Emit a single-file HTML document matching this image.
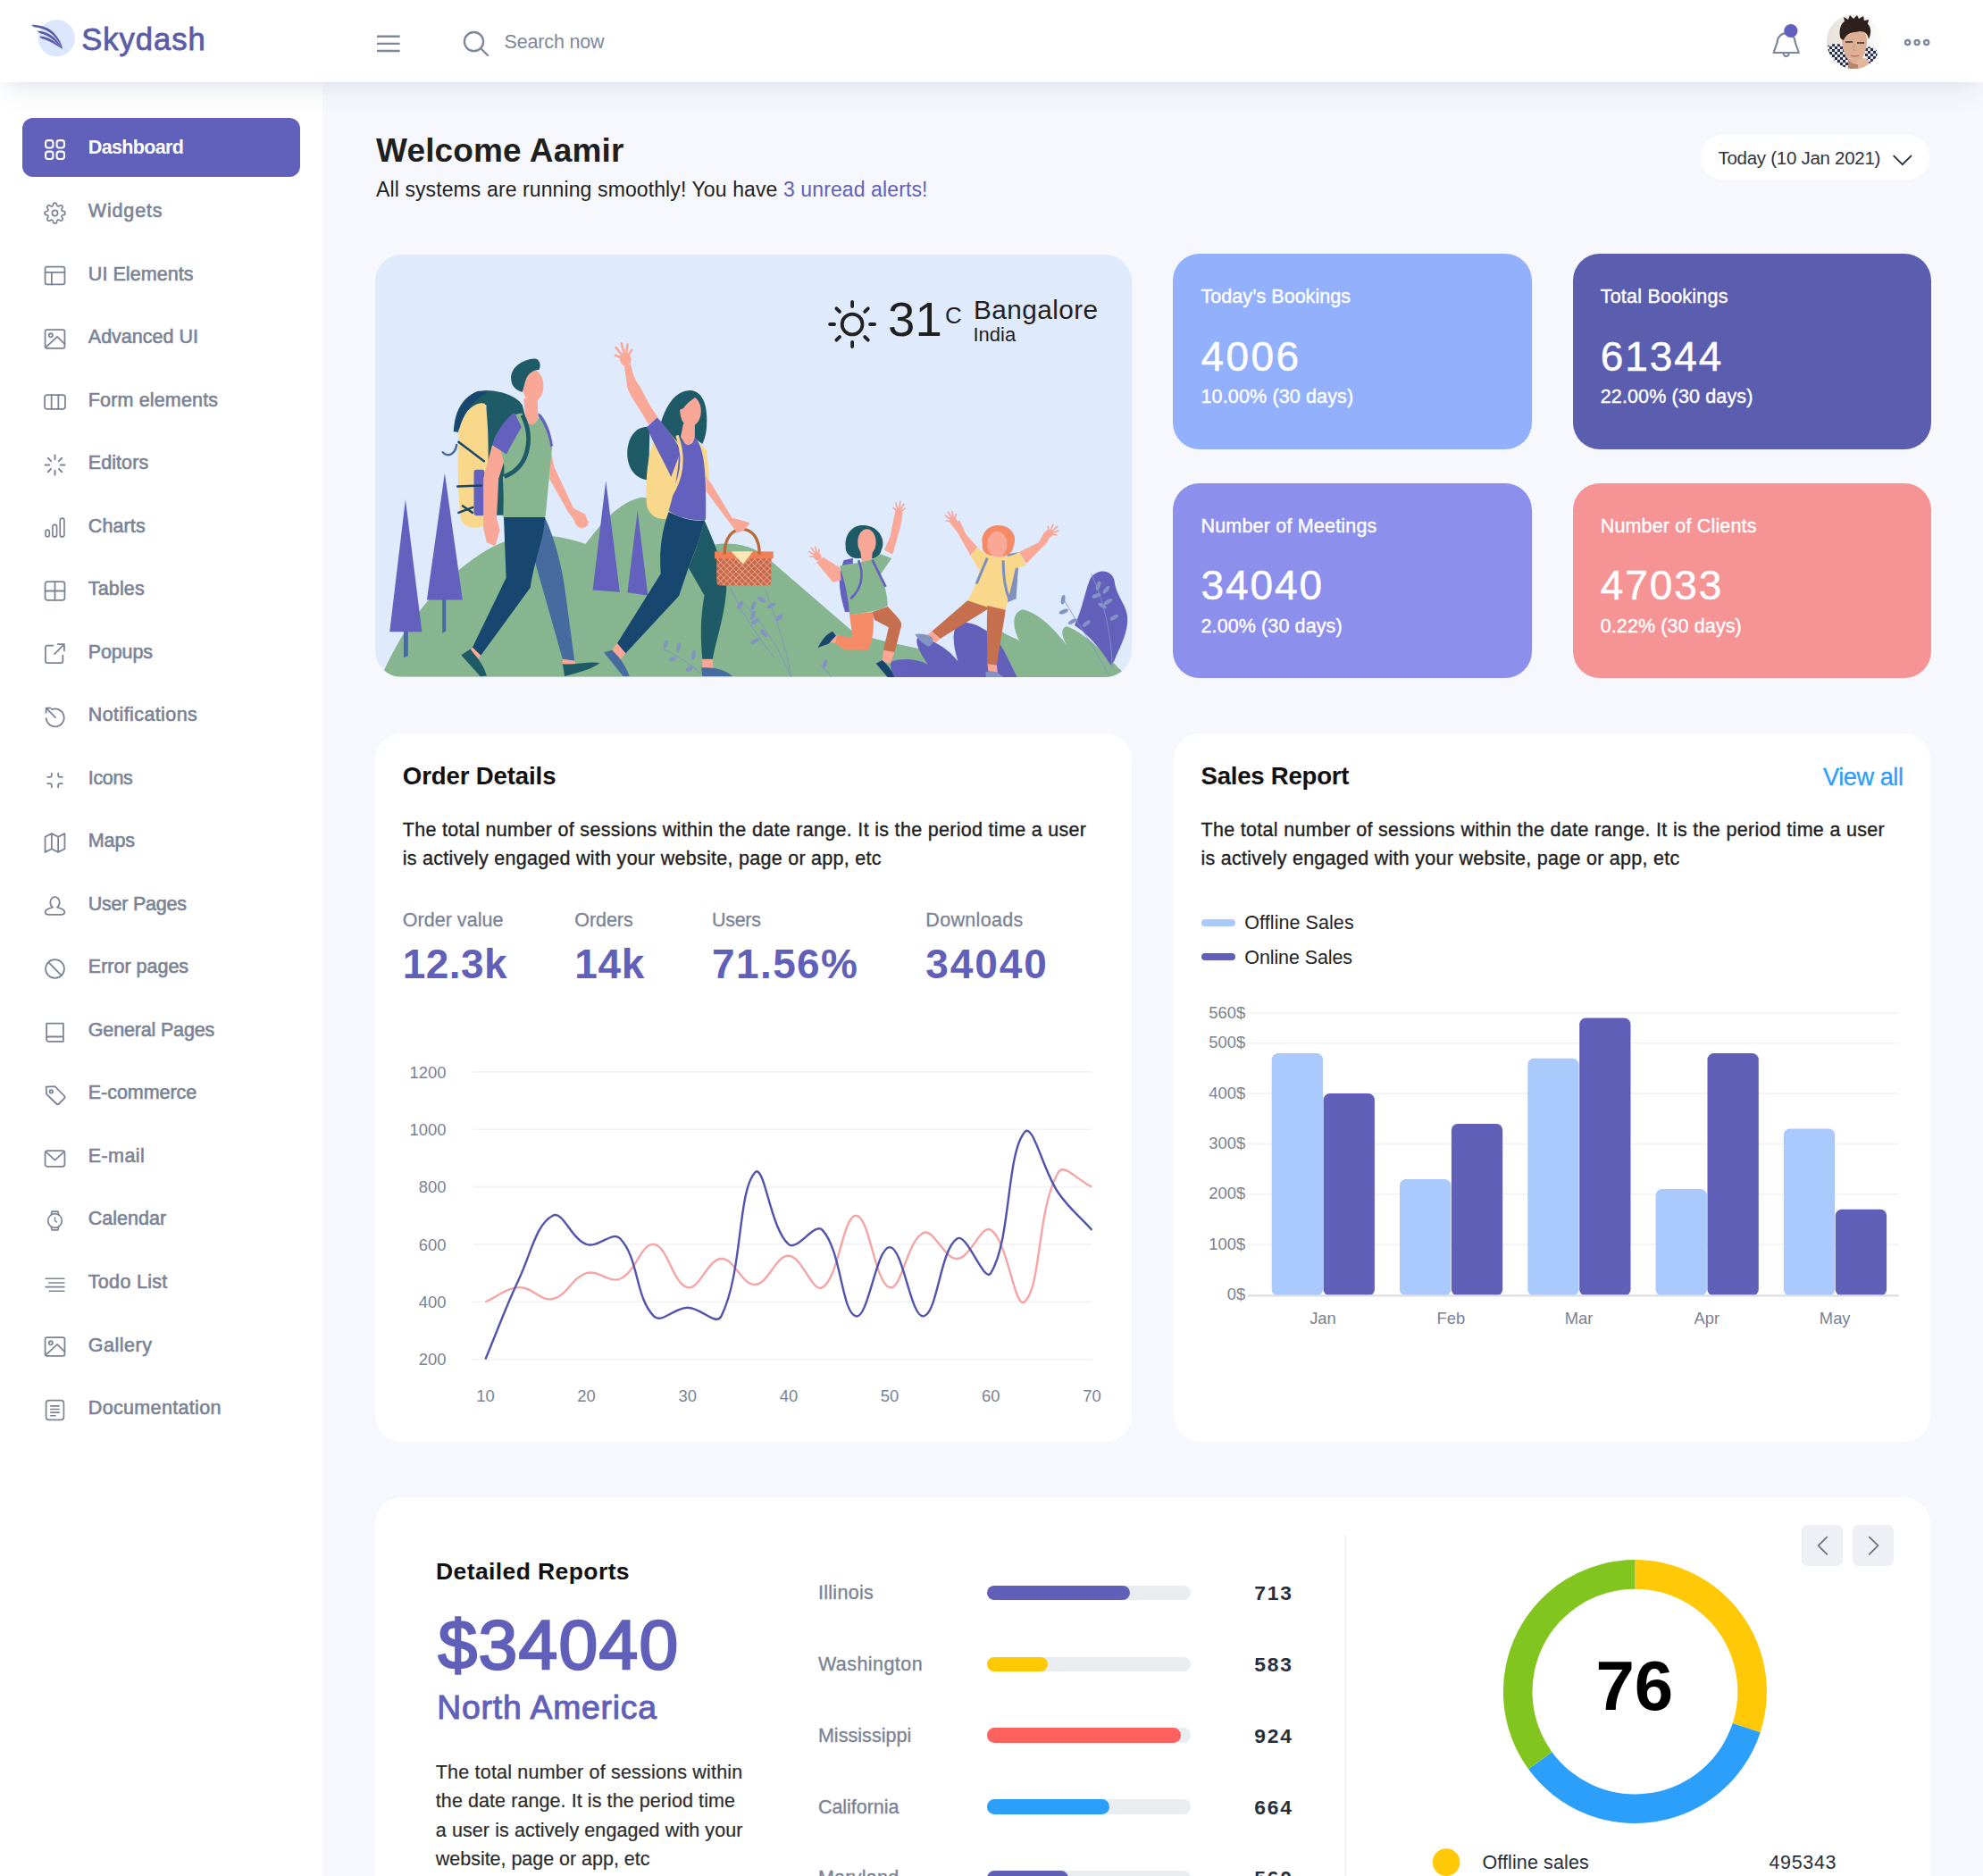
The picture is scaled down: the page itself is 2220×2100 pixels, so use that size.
<!DOCTYPE html>
<html lang="en"><head><meta charset="utf-8"><title>Skydash Admin</title>
<style>
*{box-sizing:border-box;margin:0;padding:0}
html,body{width:2220px;height:2100px;overflow:hidden;background:#f7f8fd;font-family:"Liberation Sans",Arial,sans-serif;}
#page{position:relative;width:2220px;height:2100px;overflow:hidden;background:#f7f8fd}
.t{position:absolute;white-space:nowrap}
.abs{position:absolute}
.card{position:absolute;background:#fff;border-radius:30px}
svg{position:absolute;overflow:visible}
a{text-decoration:none;color:inherit}
</style></head><body><div id="page">
<div class="abs" id="sidebar" style="left:0;top:92px;width:361px;height:2008px;background:#fff"></div>
<div class="abs" style="left:24.6px;top:132px;width:311.4px;height:66px;border-radius:12px;background:#6160ba"></div>
<nav>
<div class="t " style="top:155.4px;left:98.8px;font-size:21.50px;line-height:21.50px;color:#ffffff;font-weight:700;letter-spacing:-0.645px;">Dashboard</div>
<div class="t " style="top:225.9px;left:98.8px;font-size:21.50px;line-height:21.50px;color:#7b8395;letter-spacing:0.848px;-webkit-text-stroke:0.6px #7b8395;">Widgets</div>
<div class="t " style="top:296.5px;left:98.8px;font-size:21.50px;line-height:21.50px;color:#7b8395;letter-spacing:0.055px;-webkit-text-stroke:0.6px #7b8395;">UI Elements</div>
<div class="t " style="top:367.0px;left:98.8px;font-size:21.50px;line-height:21.50px;color:#7b8395;letter-spacing:0.009px;-webkit-text-stroke:0.6px #7b8395;">Advanced UI</div>
<div class="t " style="top:437.5px;left:98.8px;font-size:21.50px;line-height:21.50px;color:#7b8395;letter-spacing:0.156px;-webkit-text-stroke:0.6px #7b8395;">Form elements</div>
<div class="t " style="top:508.1px;left:98.8px;font-size:21.50px;line-height:21.50px;color:#7b8395;letter-spacing:0.069px;-webkit-text-stroke:0.6px #7b8395;">Editors</div>
<div class="t " style="top:578.6px;left:98.8px;font-size:21.50px;line-height:21.50px;color:#7b8395;letter-spacing:0.112px;-webkit-text-stroke:0.6px #7b8395;">Charts</div>
<div class="t " style="top:649.1px;left:98.8px;font-size:21.50px;line-height:21.50px;color:#7b8395;letter-spacing:0.158px;-webkit-text-stroke:0.6px #7b8395;">Tables</div>
<div class="t " style="top:719.6px;left:98.8px;font-size:21.50px;line-height:21.50px;color:#7b8395;letter-spacing:-0.154px;-webkit-text-stroke:0.6px #7b8395;">Popups</div>
<div class="t " style="top:790.2px;left:98.8px;font-size:21.50px;line-height:21.50px;color:#7b8395;letter-spacing:0.407px;-webkit-text-stroke:0.6px #7b8395;">Notifications</div>
<div class="t " style="top:860.7px;left:98.8px;font-size:21.50px;line-height:21.50px;color:#7b8395;letter-spacing:-0.358px;-webkit-text-stroke:0.6px #7b8395;">Icons</div>
<div class="t " style="top:931.2px;left:98.8px;font-size:21.50px;line-height:21.50px;color:#7b8395;letter-spacing:-0.119px;-webkit-text-stroke:0.6px #7b8395;">Maps</div>
<div class="t " style="top:1001.8px;left:98.8px;font-size:21.50px;line-height:21.50px;color:#7b8395;letter-spacing:-0.233px;-webkit-text-stroke:0.6px #7b8395;">User Pages</div>
<div class="t " style="top:1072.3px;left:98.8px;font-size:21.50px;line-height:21.50px;color:#7b8395;letter-spacing:-0.003px;-webkit-text-stroke:0.6px #7b8395;">Error pages</div>
<div class="t " style="top:1142.8px;left:98.8px;font-size:21.50px;line-height:21.50px;color:#7b8395;letter-spacing:-0.164px;-webkit-text-stroke:0.6px #7b8395;">General Pages</div>
<div class="t " style="top:1213.4px;left:98.8px;font-size:21.50px;line-height:21.50px;color:#7b8395;letter-spacing:-0.046px;-webkit-text-stroke:0.6px #7b8395;">E-commerce</div>
<div class="t " style="top:1283.9px;left:98.8px;font-size:21.50px;line-height:21.50px;color:#7b8395;letter-spacing:0.413px;-webkit-text-stroke:0.6px #7b8395;">E-mail</div>
<div class="t " style="top:1354.4px;left:98.8px;font-size:21.50px;line-height:21.50px;color:#7b8395;letter-spacing:0.018px;-webkit-text-stroke:0.6px #7b8395;">Calendar</div>
<div class="t " style="top:1424.9px;left:98.8px;font-size:21.50px;line-height:21.50px;color:#7b8395;letter-spacing:0.305px;-webkit-text-stroke:0.6px #7b8395;">Todo List</div>
<div class="t " style="top:1495.5px;left:98.8px;font-size:21.50px;line-height:21.50px;color:#7b8395;letter-spacing:0.500px;-webkit-text-stroke:0.6px #7b8395;">Gallery</div>
<div class="t " style="top:1566.0px;left:98.8px;font-size:21.50px;line-height:21.50px;color:#7b8395;letter-spacing:0.337px;-webkit-text-stroke:0.6px #7b8395;">Documentation</div>
</nav>
<svg style="left:49.2px;top:155.2px" width="25" height="25" viewBox="0 0 24 24" fill="none" stroke="#ffffff" stroke-width="2.00" stroke-linecap="round" stroke-linejoin="round"><rect x="2" y="2" width="8" height="8" rx="2.6"/><rect x="14" y="2" width="8" height="8" rx="2.6"/><rect x="2" y="14" width="8" height="8" rx="2.6"/><rect x="14" y="14" width="8" height="8" rx="2.6"/></svg>
<svg style="left:49.2px;top:225.7px" width="25" height="25" viewBox="0 0 24 24" fill="none" stroke="#7b8395" stroke-width="1.60" stroke-linecap="round" stroke-linejoin="round"><circle cx="12" cy="12" r="3"/><path d="M19.4 15a1.65 1.65 0 0 0 .33 1.82l.06.06a2 2 0 1 1-2.83 2.83l-.06-.06a1.65 1.65 0 0 0-1.82-.33 1.65 1.65 0 0 0-1 1.51V21a2 2 0 0 1-4 0v-.09A1.65 1.65 0 0 0 9 19.4a1.65 1.65 0 0 0-1.82.33l-.06.06a2 2 0 1 1-2.83-2.83l.06-.06a1.65 1.65 0 0 0 .33-1.82 1.65 1.65 0 0 0-1.51-1H3a2 2 0 0 1 0-4h.09A1.65 1.65 0 0 0 4.6 9a1.65 1.65 0 0 0-.33-1.82l-.06-.06a2 2 0 1 1 2.83-2.83l.06.06a1.65 1.65 0 0 0 1.82.33H9a1.65 1.65 0 0 0 1-1.51V3a2 2 0 0 1 4 0v.09a1.65 1.65 0 0 0 1 1.51 1.65 1.65 0 0 0 1.82-.33l.06-.06a2 2 0 1 1 2.83 2.83l-.06.06a1.65 1.65 0 0 0-.33 1.82V9a1.65 1.65 0 0 0 1.51 1H21a2 2 0 0 1 0 4h-.09a1.65 1.65 0 0 0-1.51 1z"/></svg>
<svg style="left:49.2px;top:296.3px" width="25" height="25" viewBox="0 0 24 24" fill="none" stroke="#7b8395" stroke-width="1.70" stroke-linecap="round" stroke-linejoin="round"><rect x="1.5" y="2.5" width="21" height="19" rx="2"/><path d="M1.5 8.5h21M8.5 8.5v13"/></svg>
<svg style="left:49.2px;top:366.8px" width="25" height="25" viewBox="0 0 24 24" fill="none" stroke="#7b8395" stroke-width="1.70" stroke-linecap="round" stroke-linejoin="round"><rect x="1.5" y="2" width="21" height="20" rx="2"/><circle cx="7.5" cy="8" r="2"/><path d="M2 21L14.5 9.5l8 8"/></svg>
<svg style="left:49.2px;top:437.3px" width="25" height="25" viewBox="0 0 24 24" fill="none" stroke="#7b8395" stroke-width="1.70" stroke-linecap="round" stroke-linejoin="round"><rect x="1" y="5" width="22" height="15" rx="2.5"/><path d="M8.3 5v15M15.7 5v15"/></svg>
<svg style="left:49.2px;top:507.9px" width="25" height="25" viewBox="0 0 24 24" fill="none" stroke="#7b8395" stroke-width="1.90" stroke-linecap="round" stroke-linejoin="round"><path d="M12 1.5v4.500000000000001M12 18v4.500000000000001M1.5 12h4.500000000000001M18 12h4.500000000000001M4.6 4.6l3.2 3.2M16.2 16.2l3.2 3.2M4.6 19.4l3.2-3.2M16.2 7.8l3.2-3.2"/></svg>
<svg style="left:49.2px;top:578.4px" width="25" height="25" viewBox="0 0 24 24" fill="none" stroke="#7b8395" stroke-width="1.60" stroke-linecap="round" stroke-linejoin="round"><rect x="2" y="14.5" width="4" height="7.5" rx="2"/><rect x="9.5" y="9" width="4.5" height="13" rx="2.2"/><rect x="17.5" y="2" width="4.5" height="20" rx="2.2"/></svg>
<svg style="left:49.2px;top:648.9px" width="25" height="25" viewBox="0 0 24 24" fill="none" stroke="#7b8395" stroke-width="1.70" stroke-linecap="round" stroke-linejoin="round"><rect x="1.5" y="2" width="21" height="20" rx="2.5"/><path d="M12 2v20M1.5 12h21"/></svg>
<svg style="left:49.2px;top:719.4px" width="25" height="25" viewBox="0 0 24 24" fill="none" stroke="#7b8395" stroke-width="1.70" stroke-linecap="round" stroke-linejoin="round"><path d="M10 3.5H4a2.2 2.2 0 0 0-2.2 2.2V20A2.2 2.2 0 0 0 4 22.2h14.300000000000001A2.2 2.2 0 0 0 20.5 20v-6"/><path d="M15 2h7v7M22 2L11.5 12.5"/></svg>
<svg style="left:49.2px;top:790.0px" width="25" height="25" viewBox="0 0 24 24" fill="none" stroke="#7b8395" stroke-width="1.70" stroke-linecap="round" stroke-linejoin="round"><path d="M2.6 13.5A9.6 9.6 0 1 0 8.5 4"/><path d="M2.5 7.5V2.5H7.500000000000001M2.8 2.8L12.5 12.5"/></svg>
<svg style="left:49.2px;top:860.5px" width="25" height="25" viewBox="0 0 24 24" fill="none" stroke="#7b8395" stroke-width="1.70" stroke-linecap="round" stroke-linejoin="round"><path d="M4 8.5h2.5a2 2 0 0 0 2-2V4.5M15.500000000000002 4.5v2a2 2 0 0 0 2 2H20M4 15.500000000000002h2.5a2 2 0 0 1 2 2V19.5M20 15.500000000000002h-2.5a2 2 0 0 0-2 2V19.5"/></svg>
<svg style="left:49.2px;top:931.0px" width="25" height="25" viewBox="0 0 24 24" fill="none" stroke="#7b8395" stroke-width="1.70" stroke-linecap="round" stroke-linejoin="round"><path d="M1.5 5.5L8.5 2l7 3.5 7-3.5v16.5L15.500000000000002 22l-7-3.5-7 3.5zM8.5 2v16.5M15.500000000000002 5.5V22"/></svg>
<svg style="left:49.2px;top:1001.6px" width="25" height="25" viewBox="0 0 24 24" fill="none" stroke="#7b8395" stroke-width="1.70" stroke-linecap="round" stroke-linejoin="round"><path d="M12 2a5 5.6 0 0 1 5 5.6c0 3-1.4 4.700000000000001-2.6 5.6 4.600000000000001 1 8 3 8 5.300000000000001 0 1.8-2 2.5-4 2.5H5.6c-2 0-4-.7-4-2.5 0-2.3 3.4-4.300000000000001 8-5.300000000000001C8.4 12.3 7 10.6 7 7.6A5 5.6 0 0 1 12 2z"/></svg>
<svg style="left:49.2px;top:1072.1px" width="25" height="25" viewBox="0 0 24 24" fill="none" stroke="#7b8395" stroke-width="1.70" stroke-linecap="round" stroke-linejoin="round"><circle cx="12" cy="12" r="10"/><path d="M5 5l14 14"/></svg>
<svg style="left:49.2px;top:1142.6px" width="25" height="25" viewBox="0 0 24 24" fill="none" stroke="#7b8395" stroke-width="1.70" stroke-linecap="round" stroke-linejoin="round"><path d="M3 2.5h18v19.5H5.2A2.2 2.2 0 0 1 3 19.8zM3 18.2a2.2 2.2 0 0 1 2.2-1.4000000000000001H21"/></svg>
<svg style="left:49.2px;top:1213.2px" width="25" height="25" viewBox="0 0 24 24" fill="none" stroke="#7b8395" stroke-width="1.70" stroke-linecap="round" stroke-linejoin="round"><path d="M2.5 3.5l9.5-.5 10 10.200000000000001a2 2 0 0 1 0 2.8l-5.6 5.6a2 2 0 0 1-2.8 0L3 11.5z"/><circle cx="8" cy="8.5" r="1.7"/></svg>
<svg style="left:49.2px;top:1283.7px" width="25" height="25" viewBox="0 0 24 24" fill="none" stroke="#7b8395" stroke-width="1.70" stroke-linecap="round" stroke-linejoin="round"><rect x="1.5" y="4" width="21" height="17" rx="2.5"/><path d="M2 5l10 9 10-9"/></svg>
<svg style="left:49.2px;top:1354.2px" width="25" height="25" viewBox="0 0 24 24" fill="none" stroke="#7b8395" stroke-width="1.60" stroke-linecap="round" stroke-linejoin="round"><circle cx="12" cy="12" r="7.5"/><path d="M12 8.5V12l2 1.5" stroke-width="1.4"/><path d="M8 5.5l.7-3.5h6.6l.7 3.5M8 18.5l.7 3.5h6.6l.7-3.5"/></svg>
<svg style="left:49.2px;top:1424.7px" width="25" height="25" viewBox="0 0 24 24" fill="none" stroke="#7b8395" stroke-width="1.50" stroke-linecap="round" stroke-linejoin="round"><path d="M2 6h20M5.5 10.5H22M2 15h20M6 19.5h16"/></svg>
<svg style="left:49.2px;top:1495.3px" width="25" height="25" viewBox="0 0 24 24" fill="none" stroke="#7b8395" stroke-width="1.70" stroke-linecap="round" stroke-linejoin="round"><rect x="1.5" y="2" width="21" height="20" rx="2"/><circle cx="7.5" cy="8" r="2"/><path d="M2 21L14.5 9.5l8 8"/></svg>
<svg style="left:49.2px;top:1565.8px" width="25" height="25" viewBox="0 0 24 24" fill="none" stroke="#7b8395" stroke-width="1.60" stroke-linecap="round" stroke-linejoin="round"><rect x="2.5" y="1.5" width="19" height="21" rx="3"/><path d="M7.5 7.5h9M7.5 11h9M7.5 14.5h9M7.5 18h5"/></svg>
<header class="abs" id="navbar" style="left:0;top:0;width:2220px;height:92px;background:#fff;box-shadow:0 8px 32px -8px rgba(205,209,225,0.85)"></header>
<svg style="left:30px;top:18px" width="62" height="50" viewBox="30 18 62 50"><circle cx="63.3" cy="42.6" r="20.6" fill="#dce6fd"/><path fill="#5b5ca8" d="M35.1 27.9C45 27.5 55 31 61 37.5C66 43 69 49 70.2 55.1C67.5 49.5 64 44 59 39C53 33.5 46 31.5 38.2 30.3Z M41.2 34.5C49 34.5 56 37.5 61 42.5C65 46.5 68 51 70.2 55.1C66 50.5 62 46.5 57.5 43C53 39.8 49 38 44.2 36.9Z M44.2 40.6C51 40.8 57 43.5 62 47.5C65.5 50.2 68 52.8 70.2 55.1C66 52.5 62 50 58 47.8C54 45.6 50 44 46 43Z"/></svg>
<div class="t " style="top:26.8px;left:91.2px;font-size:34.60px;line-height:34.60px;color:#5b5ca8;letter-spacing:0.970px;-webkit-text-stroke:0.8px #5b5ca8;">Skydash</div>
<svg style="left:422px;top:38px" width="26" height="22" viewBox="0 0 26 22" stroke="#7f879c" stroke-width="2.4" fill="none"><path d="M0 2.8h25.6M0 10.9h25.6M0 19h25.6"/></svg>
<svg style="left:515px;top:31px" width="36" height="36" viewBox="515 31 36 36" stroke="#7f879c" stroke-width="2.3" fill="none" stroke-linecap="round"><circle cx="530.5" cy="46.6" r="10.6"/><path d="M538.3 54.2L546 62"/></svg>
<div class="t " style="top:36.8px;left:564.5px;font-size:21.50px;line-height:21.50px;color:#7f879c;letter-spacing:-0.154px;">Search now</div>
<svg style="left:1980px;top:25px" width="40" height="44" viewBox="1980 25 40 44" stroke="#7f879c" stroke-width="2.2" fill="none" stroke-linejoin="round" stroke-linecap="round"><path d="M1985.6 59 L1989.8 47 A9.9 9.9 0 0 1 2009.6 47 L2013.8 59 Z"/><path d="M1996.7 59.5a3 3.6 0 0 0 6 0"/><circle cx="2004.9" cy="34.5" r="7.6" fill="#6160c0" stroke="none"/></svg>
<svg style="left:2045px;top:15.8px" width="61" height="61" viewBox="0 0 61 61"><defs><clipPath id="avc"><circle cx="30.5" cy="30.5" r="30.5"/></clipPath><linearGradient id="avg" x1="0" x2="1" y1="0" y2="0"><stop offset="0" stop-color="#e9e0db"/><stop offset="0.55" stop-color="#f3efec"/><stop offset="1" stop-color="#fdfdfd"/></linearGradient>
<clipPath id="shl"><path d="M0 36 C6 32 14 32 22 36 L28 61 L0 61Z"/></clipPath><clipPath id="shr"><path d="M42 38 C48 35 54 37 57 42 L55 56 L44 54Z"/></clipPath></defs>
<g clip-path="url(#avc)"><rect width="61" height="61" fill="url(#avg)"/>
<path d="M0 36 C6 32 14 32 22 36 L28 61 L0 61Z" fill="#e4e7ee"/><g clip-path="url(#shl)" fill="#2a2f45"><rect x="0" y="33" width="3" height="3"/><rect x="6" y="33" width="3" height="3"/><rect x="12" y="33" width="3" height="3"/><rect x="18" y="33" width="3" height="3"/><rect x="24" y="33" width="3" height="3"/><rect x="3" y="36" width="3" height="3"/><rect x="9" y="36" width="3" height="3"/><rect x="15" y="36" width="3" height="3"/><rect x="21" y="36" width="3" height="3"/><rect x="27" y="36" width="3" height="3"/><rect x="0" y="39" width="3" height="3"/><rect x="6" y="39" width="3" height="3"/><rect x="12" y="39" width="3" height="3"/><rect x="18" y="39" width="3" height="3"/><rect x="24" y="39" width="3" height="3"/><rect x="3" y="42" width="3" height="3"/><rect x="9" y="42" width="3" height="3"/><rect x="15" y="42" width="3" height="3"/><rect x="21" y="42" width="3" height="3"/><rect x="27" y="42" width="3" height="3"/><rect x="0" y="45" width="3" height="3"/><rect x="6" y="45" width="3" height="3"/><rect x="12" y="45" width="3" height="3"/><rect x="18" y="45" width="3" height="3"/><rect x="24" y="45" width="3" height="3"/><rect x="3" y="48" width="3" height="3"/><rect x="9" y="48" width="3" height="3"/><rect x="15" y="48" width="3" height="3"/><rect x="21" y="48" width="3" height="3"/><rect x="27" y="48" width="3" height="3"/><rect x="0" y="51" width="3" height="3"/><rect x="6" y="51" width="3" height="3"/><rect x="12" y="51" width="3" height="3"/><rect x="18" y="51" width="3" height="3"/><rect x="24" y="51" width="3" height="3"/><rect x="3" y="54" width="3" height="3"/><rect x="9" y="54" width="3" height="3"/><rect x="15" y="54" width="3" height="3"/><rect x="21" y="54" width="3" height="3"/><rect x="27" y="54" width="3" height="3"/><rect x="0" y="57" width="3" height="3"/><rect x="6" y="57" width="3" height="3"/><rect x="12" y="57" width="3" height="3"/><rect x="18" y="57" width="3" height="3"/><rect x="24" y="57" width="3" height="3"/><rect x="3" y="60" width="3" height="3"/><rect x="9" y="60" width="3" height="3"/><rect x="15" y="60" width="3" height="3"/><rect x="21" y="60" width="3" height="3"/><rect x="27" y="60" width="3" height="3"/></g>
<path d="M42 38 C48 35 54 37 57 42 L55 56 L44 54Z" fill="#e4e7ee"/><g clip-path="url(#shr)" fill="#2a2f45"><rect x="40" y="35" width="3" height="3"/><rect x="46" y="35" width="3" height="3"/><rect x="52" y="35" width="3" height="3"/><rect x="58" y="35" width="3" height="3"/><rect x="43" y="38" width="3" height="3"/><rect x="49" y="38" width="3" height="3"/><rect x="55" y="38" width="3" height="3"/><rect x="40" y="41" width="3" height="3"/><rect x="46" y="41" width="3" height="3"/><rect x="52" y="41" width="3" height="3"/><rect x="58" y="41" width="3" height="3"/><rect x="43" y="44" width="3" height="3"/><rect x="49" y="44" width="3" height="3"/><rect x="55" y="44" width="3" height="3"/><rect x="40" y="47" width="3" height="3"/><rect x="46" y="47" width="3" height="3"/><rect x="52" y="47" width="3" height="3"/><rect x="58" y="47" width="3" height="3"/><rect x="43" y="50" width="3" height="3"/><rect x="49" y="50" width="3" height="3"/><rect x="55" y="50" width="3" height="3"/><rect x="40" y="53" width="3" height="3"/><rect x="46" y="53" width="3" height="3"/><rect x="52" y="53" width="3" height="3"/><rect x="58" y="53" width="3" height="3"/><rect x="43" y="56" width="3" height="3"/><rect x="49" y="56" width="3" height="3"/><rect x="55" y="56" width="3" height="3"/></g>
<path d="M17 30 C16 20 22 15 31 15 C41 15 46 22 45 32 C44 44 39 54 32 56 C24 55 18 44 17 30Z" fill="#ddb096"/>
<path d="M24 50 C27 56 36 58 41 53 L43 61 L24 61Z" fill="#b98468"/>
<path d="M35 52 C38 48 45 48 47 53 L46 61 L35 61Z" fill="#e3b79d"/>
<path d="M15.5 27 C13 18 16 10 20 8 L19 3 L24 6 L26 1 L30 5 L34 1 L36 5 L41 2 L42 7 L47 6 L46 11 C50 14 50 22 47 28 C46 22 43 19 37 19 C31 21 24 18 19 29 Z" fill="#2e211d"/>
<path d="M21 31 h8 M34 32 h8" stroke="#3a2a26" stroke-width="1.4"/><path d="M27 46 q4 2 9 0" stroke="#a86a5c" stroke-width="1.3" fill="none"/><path d="M31 33 l-1.500000000000000 7 h3" stroke="#c4947a" stroke-width="1" fill="none"/>
</g></svg>
<svg style="left:2130px;top:42px" width="32" height="12" viewBox="2130 42 32 12" stroke="#7f879c" stroke-width="2.3" fill="none"><circle cx="2135.6" cy="47.6" r="2.6"/><circle cx="2146.1" cy="47.6" r="2.6"/><circle cx="2156.7" cy="47.6" r="2.6"/></svg>
<div class="t " style="top:150.2px;left:421.0px;font-size:37.00px;line-height:37.00px;color:#1f1f1f;font-weight:700;letter-spacing:0.150px;">Welcome Aamir</div>
<div class="t " style="top:200.5px;left:421.0px;font-size:23.00px;line-height:23.00px;color:#1f1f1f;letter-spacing:0.108px;">All systems are running smoothly! You have <span style="color:#6160b9">3 unread alerts!</span></div>
<div class="abs" style="left:1904.3px;top:151.2px;width:255.5px;height:49.4px;border-radius:24.7px;background:#fff"></div>
<div class="t " style="top:166.9px;left:1923.5px;font-size:20.50px;line-height:20.50px;color:#2f3540;letter-spacing:-0.279px;">Today (10 Jan 2021)</div>
<svg style="left:2118px;top:172px" width="24" height="16" viewBox="2118 172 24 16" stroke="#282f3a" stroke-width="1.9" fill="none" stroke-linecap="round" stroke-linejoin="round"><path d="M2120.3 174.6L2129.8 184.2L2139.4 174.6"/></svg>
<section class="abs" id="weather" style="left:419.8px;top:284.6px;width:847.5px;height:473.2px;border-radius:30px;background:#dfeafd;overflow:hidden">
<svg style="left:0;top:0" width="847.5" height="473.2" viewBox="419.8 284.6 847.5 473.2"><g transform="translate(420 380) scale(0.221887)"><path fill="#86b590" d="M30 1700 C80 1580 180 1400 300 1280 C420 1150 540 1060 660 1015 C760 975 900 975 1060 1030 C1120 960 1200 830 1340 795 C1450 790 1560 900 1700 1035 C1760 1020 1900 1020 1990 1110 L2408 1471 C2500 1510 2650 1540 2760 1560 C2900 1590 3000 1650 3100 1700Z"/><path fill="#466b9f" d="M143 1460h22v135l-22 8zM338 1300h18v170l-18 10z"/><path fill="#6361bd" d="M152 805L235 1473H72zM350 672L440 1312H260zM1163 710L1233 1272L1097 1262zM1323 862L1375 1290L1272 1275z"/><g stroke="#8393c4" stroke-width="4.5" fill="none" stroke-linecap="round"><path d="M1790 1250C1850 1380 1930 1500 2010 1600"/><path d="M1450 1560C1520 1590 1600 1640 1650 1690"/></g><g fill="#8393c4"><ellipse cx="1840" cy="1340" rx="10" ry="24" transform="rotate(30 1840 1340)"/><ellipse cx="1905" cy="1390" rx="10" ry="24" transform="rotate(20 1905 1390)"/><ellipse cx="1960" cy="1480" rx="10" ry="24" transform="rotate(-40 1960 1480)"/><ellipse cx="1915" cy="1520" rx="10" ry="24" transform="rotate(60 1915 1520)"/><ellipse cx="1465" cy="1535" rx="10" ry="22" transform="rotate(20 1465 1535)"/><ellipse cx="1530" cy="1550" rx="10" ry="24" transform="rotate(15 1530 1550)"/><ellipse cx="1605" cy="1590" rx="10" ry="24" transform="rotate(10 1605 1590)"/><ellipse cx="1500" cy="1610" rx="10" ry="20" transform="rotate(70 1500 1610)"/><ellipse cx="1585" cy="1660" rx="10" ry="20" transform="rotate(60 1585 1660)"/></g><path fill="#466b9f" d="M855 895C905 1000 945 1150 962 1300L1005 1620L945 1612L800 1100C820 1000 840 950 855 895Z"/><path fill="#1f5b67" d="M395 462C400 330 470 255 560 255C650 258 720 290 742 330L765 420C775 520 765 610 705 665L645 690L650 885L596 885L562 600L560 330C500 300 430 380 420 467Z"/><path fill="#f9d88b" d="M420 467C430 380 500 305 552 322C574 400 572 600 566 935C500 960 442 950 430 900C414 750 414 600 420 467Z"/><path fill="#17466f" d="M394.6 465C407.8 370 444.8 285.4 518.8 259L566.4 264.3C508.2 296 455.4 343.5 423.7 449.3Z"/><rect x="497" y="655" width="54" height="232" rx="14" fill="#6361bd"/><g stroke="#17466f" stroke-width="11" fill="none" stroke-linecap="round"><path d="M420 515L548 612"/><path d="M415 740L535 735"/><path d="M420 872L492 845"/><path d="M440 838L490 872"/><path d="M340 567C362 592 402 582 410 530" stroke="#466b9f"/></g><path fill="#f9a898" d="M590 530L662 575L622 700L612 900L628 960L605 1040L562 1022L545 950L545 700Z"/><path fill="#f9a898" d="M885 560L902 640L1000 850L1078 920L1040 952L975 872L878 700Z"/><path fill="#f9a898" d="M1000 850L1060 880L1075 935L1050 950L1035 915L1030 950L1010 930L990 880Z"/><path fill="#f9a898" d="M748 295L818 305L822 400L792 455L758 400Z"/><ellipse cx="795" cy="232" rx="53" ry="80" fill="#f9a898"/><path fill="#1f5b67" d="M685 200C680 140 740 100 800 95C830 93 838 130 826 152C800 150 770 170 760 200C750 230 746 250 742 264C702 252 688 230 685 200Z"/><path fill="#86b590" d="M740 370C760 425 800 465 832 372C862 400 886 470 892 540L858 892C800 928 700 922 645 896L650 640C640 560 620 520 600 500C640 420 690 370 740 370Z"/><path fill="#6361bd" d="M702 368C650 400 610 470 590 530L662 577C690 520 722 470 737 440Z"/><path fill="#6361bd" d="M822 368C860 400 888 470 896 535L884 540C876 480 850 420 822 385Z"/><path fill="none" stroke="#1f5b67" stroke-width="22" d="M742 380C795 480 785 640 650 690"/><path fill="#17466f" d="M648 895L856 895C852 1000 805 1100 782 1250L532 1592L490 1552L660 1200Z"/><path fill="#f9a898" d="M490 1552L532 1592L520 1612L470 1582Z"/><path fill="#1f5b67" d="M433 1590L480 1560C500 1592 540 1622 562 1695L530 1698Z"/><path fill="#f9a898" d="M945 1610L1005 1620L1010 1642L945 1637Z"/><path fill="#1f5b67" d="M945 1635C1000 1642 1080 1620 1132 1630C1100 1660 1020 1680 955 1697Z"/><path fill="#1f5b67" d="M1660 910C1700 1000 1745 1100 1772 1250C1762 1400 1722 1500 1702 1612L1650 1612C1640 1500 1640 1400 1660 1290L1580 1150C1610 1080 1640 1000 1660 910Z"/><path fill="#1f5b67" d="M1385 440C1300 430 1262 520 1273 600C1285 680 1340 705 1378 708Z"/><path fill="#f9d88b" d="M1400 520C1370 600 1360 750 1370 840C1390 900 1440 912 1482 900L1562 640L1532 480L1440 470Z"/><path fill="#f9d88b" d="M1600 480L1672 560L1686 700L1664 700L1640 560Z"/><path fill="#1f5b67" d="M1440 420C1470 320 1520 255 1590 255C1652 260 1677 330 1672 420C1672 470 1662 500 1650 525L1590 482L1560 560L1460 440Z"/><path fill="#f9a898" d="M1256 132L1289 124C1300 180 1315 210 1331 228L1384 328L1427 394L1378 426L1330 345C1300 300 1280 270 1271 238Z"/><g transform="translate(1262 98) rotate(-14) scale(1.30)" stroke="#f9a898" stroke-width="9" stroke-linecap="round" fill="#f9a898"><ellipse cx="0" cy="0" rx="22" ry="26" stroke="none"/><path d="M-9.8 -6.9L-34.4 -24.1"/><path d="M-5.1 -10.9L-24.5 -52.6"/><path d="M0.0 -12.0L0.0 -64.0"/><path d="M4.5 -11.1L21.7 -53.8"/><path d="M8.9 -8.0L32.7 -29.4"/></g><path fill="#f9a898" d="M1668 690L1692 720L1800 898L1885 922L1852 962L1808 950L1668 762Z"/><path fill="#f9a898" d="M1555 420L1612 425L1612 500L1575 545L1540 490Z"/><ellipse cx="1590" cy="360" rx="53" ry="76" fill="#f9a898"/><path fill="#1f5b67" d="M1530 355C1530 300 1570 270 1620 285C1600 300 1570 320 1555 345C1545 350 1535 352 1530 355Z"/><path fill="#6361bd" d="M1530 480C1560 545 1600 545 1612 490C1652 540 1672 620 1667 907C1600 917 1530 897 1480 862C1510 760 1540 640 1530 480Z"/><path fill="#6361bd" d="M1422 393L1370 440C1400 520 1450 600 1492 692L1542 560C1500 480 1450 420 1422 393Z"/><path fill="none" stroke="#f9d88b" stroke-width="15" d="M1522 482C1565 600 1545 700 1492 785"/><path fill="#17466f" d="M1480 868C1540 900 1600 917 1662 910C1640 1000 1600 1100 1580 1150L1532 1292L1262 1582L1220 1532L1440 1180C1430 1050 1450 950 1480 868Z"/><path fill="#f9a898" d="M1220 1530L1262 1580L1240 1612L1190 1572Z"/><path fill="#466b9f" d="M1153 1577L1195 1565C1230 1600 1262 1640 1282 1697L1250 1697Z"/><path fill="#f9a898" d="M1650 1610L1702 1610L1706 1662L1650 1657Z"/><path fill="#466b9f" d="M1645 1655C1700 1650 1760 1662 1802 1697L1650 1697Z"/><defs><pattern id="bk" width="22" height="22" patternUnits="userSpaceOnUse" patternTransform="rotate(45)"><rect width="22" height="22" fill="#c5674a"/><path d="M0 0H22M0 0V22" stroke="#f3b196" stroke-width="6"/></pattern></defs><path fill="url(#bk)" d="M1722 1100H1998V1215C1998 1232 1990 1240 1975 1240H1745C1730 1240 1722 1232 1722 1215Z"/><rect x="1712" y="1068" width="296" height="36" fill="#f07f55"/><path fill="#fce8b4" d="M1795 1068H1905L1855 1132Z"/><path fill="none" stroke="#b96b3b" stroke-width="15" d="M1762 1082C1762 1000 1800 955 1850 955C1900 955 1938 1000 1938 1082"/><path fill="#f9a898" d="M1800 898L1862 915L1890 925L1860 960L1825 975L1810 950Z"/></g><g transform="translate(830 500) scale(0.221887)"><path fill="#86b590" d="M1290 915C1340 955 1380 960 1402 978C1360 900 1368 830 1420 820C1500 838 1580 920 1642 1002C1610 950 1610 910 1642 905C1740 940 1850 1060 1918 1130L1930 1165L1290 1165Z"/><path fill="#6361bd" d="M1680 900C1720 820 1740 700 1762 660C1800 610 1872 618 1882 680C1892 760 1952 800 1947 880C1942 960 1902 1020 1880 1080L1862 1100C1800 1000 1740 940 1680 900Z"/><path fill="#6361bd" d="M750 1085C800 1060 900 1070 942 1100C900 1040 870 980 890 960C950 960 1050 1020 1092 1082C1060 980 1060 900 1110 885C1200 880 1300 960 1340 1060L1392 1165L760 1165Z"/><g stroke="#8393c4" stroke-width="4.5" fill="none" stroke-linecap="round" opacity="0.85"><path d="M1620 760C1700 900 1790 1020 1850 1150"/><path d="M1765 640C1830 780 1870 960 1870 1120"/><path d="M10 790C120 900 200 1040 250 1160"/><path d="M120 720C170 860 230 1020 250 1160"/><path d="M400 1100C420 1120 440 1140 450 1160"/></g><g fill="#8393c4"><ellipse cx="1622" cy="770" rx="10" ry="24" transform="rotate(10 1622 770)"/><ellipse cx="1625" cy="830" rx="10" ry="24" transform="rotate(70 1625 830)"/><ellipse cx="1670" cy="880" rx="10" ry="24" transform="rotate(60 1670 880)"/><ellipse cx="1740" cy="890" rx="10" ry="24" transform="rotate(50 1740 890)"/><ellipse cx="1800" cy="700" rx="10" ry="24" transform="rotate(20 1800 700)"/><ellipse cx="1790" cy="750" rx="10" ry="24" transform="rotate(70 1790 750)"/><ellipse cx="1840" cy="720" rx="10" ry="24" transform="rotate(40 1840 720)"/><ellipse cx="1850" cy="780" rx="10" ry="24" transform="rotate(60 1850 780)"/><ellipse cx="1880" cy="860" rx="10" ry="24" transform="rotate(60 1880 860)"/><ellipse cx="1820" cy="800" rx="10" ry="24" transform="rotate(-60 1820 800)"/><ellipse cx="60" cy="800" rx="10" ry="24" transform="rotate(20 60 800)"/><ellipse cx="100" cy="770" rx="10" ry="24" transform="rotate(-60 100 770)"/><ellipse cx="150" cy="800" rx="10" ry="24" transform="rotate(60 150 800)"/><ellipse cx="70" cy="880" rx="10" ry="24" transform="rotate(60 70 880)"/><ellipse cx="190" cy="860" rx="10" ry="24" transform="rotate(50 190 860)"/><ellipse cx="420" cy="1095" rx="10" ry="24" transform="rotate(20 420 1095)"/></g><path fill="#6361bd" d="M515 572L562 560L562 832L522 832C500 760 490 700 495 640Z"/><path fill="#1f5b67" d="M620 395C560 390 520 440 525 500C520 540 560 570 600 560C640 580 700 560 705 520C730 480 700 400 620 395Z"/><path fill="#f9a898" d="M600 530L660 530L655 600L610 600Z"/><ellipse cx="632" cy="480" rx="46" ry="66" fill="#f9a898"/><path fill="#f9a898" d="M497 610L502 672L460 682L378 582L412 556Z"/><g transform="translate(383 553) rotate(-35) scale(0.85)" stroke="#f9a898" stroke-width="9" stroke-linecap="round" fill="#f9a898"><ellipse cx="0" cy="0" rx="22" ry="26" stroke="none"/><path d="M-9.8 -6.9L-34.4 -24.1"/><path d="M-5.1 -10.9L-24.5 -52.6"/><path d="M0.0 -12.0L0.0 -64.0"/><path d="M4.5 -11.1L21.7 -53.8"/><path d="M8.9 -8.0L32.7 -29.4"/></g><path fill="#f9a898" d="M720 520L762 542L802 400L812 340L772 340L750 450Z"/><g transform="translate(793 332) rotate(8) scale(0.88)" stroke="#f9a898" stroke-width="9" stroke-linecap="round" fill="#f9a898"><ellipse cx="0" cy="0" rx="22" ry="26" stroke="none"/><path d="M-9.8 -6.9L-34.4 -24.1"/><path d="M-5.1 -10.9L-24.5 -52.6"/><path d="M0.0 -12.0L0.0 -64.0"/><path d="M4.5 -11.1L21.7 -53.8"/><path d="M8.9 -8.0L32.7 -29.4"/></g><path fill="#86b590" d="M495 600C560 580 640 592 702 540L757 562L702 642C722 700 737 750 737 802C680 832 600 842 545 847C540 760 520 680 495 600Z"/><g stroke="#6361bd" stroke-width="12" fill="none"><path d="M590 572C622 650 602 720 550 765"/><path d="M660 570L727 705"/></g><path fill="#f58b66" d="M545 847L662 832C672 900 662 980 640 1022L520 1022L472 990L482 950L560 962Z"/><path fill="#c66f4e" d="M660 832L737 805C780 850 812 880 806 902L772 1037L715 1027L742 910L670 872Z"/><path fill="#f9a898" d="M715 1025L772 1035L752 1092L710 1082Z"/><path fill="#f9a898" d="M472 990L482 950L450 960L440 985Z"/><path fill="#17466f" d="M385 1012C400 980 430 940 460 930L476 952L440 992Z"/><path fill="#17466f" d="M678 1092L710 1075C740 1100 760 1130 772 1165L740 1165Z"/><path fill="#8090bd" d="M1340 540L1402 530L1385 765L1340 785Z"/><path fill="#f58b66" d="M1295 395C1240 395 1205 440 1215 490C1210 530 1240 555 1280 550C1320 565 1370 540 1372 500C1395 450 1360 395 1295 395Z"/><path fill="#f9a898" d="M1262 540L1320 540L1315 590L1270 590Z"/><ellipse cx="1290" cy="490" rx="50" ry="64" fill="#f9a898"/><path fill="#f9a898" d="M1190 505L1155 547L1090 432L1060 392L1100 370L1132 440Z"/><g transform="translate(1070 376) rotate(-30) scale(0.88)" stroke="#f9a898" stroke-width="9" stroke-linecap="round" fill="#f9a898"><ellipse cx="0" cy="0" rx="22" ry="26" stroke="none"/><path d="M-9.8 -6.9L-34.4 -24.1"/><path d="M-5.1 -10.9L-24.5 -52.6"/><path d="M0.0 -12.0L0.0 -64.0"/><path d="M4.5 -11.1L21.7 -53.8"/><path d="M8.9 -8.0L32.7 -29.4"/></g><path fill="#f9a898" d="M1400 530L1437 587L1542 480L1562 440L1527 430L1500 480Z"/><g transform="translate(1550 438) rotate(50) scale(0.88)" stroke="#f9a898" stroke-width="9" stroke-linecap="round" fill="#f9a898"><ellipse cx="0" cy="0" rx="22" ry="26" stroke="none"/><path d="M-9.8 -6.9L-34.4 -24.1"/><path d="M-5.1 -10.9L-24.5 -52.6"/><path d="M0.0 -12.0L0.0 -64.0"/><path d="M4.5 -11.1L21.7 -53.8"/><path d="M8.9 -8.0L32.7 -29.4"/></g><path fill="#f9d88b" d="M1190 505L1155 547L1200 622C1190 680 1160 740 1140 777C1200 802 1270 822 1332 822C1352 740 1372 660 1382 612L1437 597L1400 530C1350 562 1250 572 1190 505Z"/><g stroke="#8090bd" stroke-width="14" fill="none"><path d="M1240 560L1185 690"/><path d="M1320 572C1320 650 1330 720 1352 770"/></g><path fill="#c66f4e" d="M1140 775L1252 812L1002 967L960 930Z"/><path fill="#c66f4e" d="M1240 800L1332 822C1322 900 1302 1000 1287 1102L1240 1097C1240 1000 1235 900 1240 800Z"/><path fill="#f9a898" d="M960 930L1002 967L980 987L930 952Z"/><path fill="#8393c4" d="M875 945C900 938 940 945 962 960C972 980 962 1000 940 1007C910 990 890 970 875 945Z"/><path fill="#f9a898" d="M1240 1095L1287 1100L1292 1137L1245 1132Z"/><path fill="#8393c4" d="M1230 1137C1260 1125 1300 1135 1322 1165L1235 1165Z"/></g><g stroke="#222" stroke-width="3.8" fill="none" stroke-linecap="round"><circle cx="953.9" cy="362.6" r="11.4"/><path d="M973.9 362.6L978.9 362.6"/><path d="M968.0 376.7L971.6 380.3"/><path d="M953.9 382.6L953.9 387.6"/><path d="M939.8 376.7L936.2 380.3"/><path d="M933.9 362.6L928.9 362.6"/><path d="M939.8 348.5L936.2 344.9"/><path d="M953.9 342.6L953.9 337.6"/><path d="M968.0 348.5L971.6 344.9"/></g></svg>
</section>
<div class="t " style="top:330.6px;left:993.9px;font-size:54.50px;line-height:54.50px;color:#1f1f1f;letter-spacing:0.189px;">31</div>
<div class="t " style="top:339.9px;left:1058.0px;font-size:26.00px;line-height:26.00px;color:#1f1f1f;">C</div>
<div class="t " style="top:332.2px;left:1090.0px;font-size:29.80px;line-height:29.80px;color:#1f1f1f;letter-spacing:0.404px;">Bangalore</div>
<div class="t " style="top:363.7px;left:1089.5px;font-size:22.00px;line-height:22.00px;color:#1f1f1f;letter-spacing:-0.021px;">India</div>
<div class="abs" style="left:1313.3px;top:284.3px;width:401.4px;height:219.0px;border-radius:30px;background:#92b0fb"></div>
<div class="t " style="top:322.3px;left:1344.5px;font-size:21.50px;line-height:21.50px;color:#fff;letter-spacing:0.035px;-webkit-text-stroke:0.4px #fff;">Today’s Bookings</div>
<div class="t " style="top:375.6px;left:1344.5px;font-size:46.00px;line-height:46.00px;color:#fff;letter-spacing:2.416px;-webkit-text-stroke:0.5px #fff;">4006</div>
<div class="t " style="top:434.1px;left:1344.5px;font-size:21.50px;line-height:21.50px;color:#fff;letter-spacing:0.143px;-webkit-text-stroke:0.4px #fff;">10.00% (30 days)</div>
<div class="abs" style="left:1760.5px;top:284.3px;width:401.2px;height:219.0px;border-radius:30px;background:#5b5daf"></div>
<div class="t " style="top:322.3px;left:1791.7px;font-size:21.50px;line-height:21.50px;color:#fff;letter-spacing:0.226px;-webkit-text-stroke:0.4px #fff;">Total Bookings</div>
<div class="t " style="top:375.6px;left:1791.7px;font-size:46.00px;line-height:46.00px;color:#fff;letter-spacing:1.916px;-webkit-text-stroke:0.5px #fff;">61344</div>
<div class="t " style="top:434.1px;left:1791.7px;font-size:21.50px;line-height:21.50px;color:#fff;letter-spacing:0.143px;-webkit-text-stroke:0.4px #fff;">22.00% (30 days)</div>
<div class="abs" style="left:1313.3px;top:541.1px;width:401.4px;height:217.5px;border-radius:30px;background:#8c8feb"></div>
<div class="t " style="top:579.1px;left:1344.5px;font-size:21.50px;line-height:21.50px;color:#fff;letter-spacing:0.189px;-webkit-text-stroke:0.4px #fff;">Number of Meetings</div>
<div class="t " style="top:632.4px;left:1344.5px;font-size:46.00px;line-height:46.00px;color:#fff;letter-spacing:1.916px;-webkit-text-stroke:0.5px #fff;">34040</div>
<div class="t " style="top:690.9px;left:1344.5px;font-size:21.50px;line-height:21.50px;color:#fff;letter-spacing:0.109px;-webkit-text-stroke:0.4px #fff;">2.00% (30 days)</div>
<div class="abs" style="left:1760.5px;top:541.1px;width:401.2px;height:217.5px;border-radius:30px;background:#f59395"></div>
<div class="t " style="top:579.1px;left:1791.7px;font-size:21.50px;line-height:21.50px;color:#fff;letter-spacing:0.173px;-webkit-text-stroke:0.4px #fff;">Number of Clients</div>
<div class="t " style="top:632.4px;left:1791.7px;font-size:46.00px;line-height:46.00px;color:#fff;letter-spacing:1.916px;-webkit-text-stroke:0.5px #fff;">47033</div>
<div class="t " style="top:690.9px;left:1791.7px;font-size:21.50px;line-height:21.50px;color:#fff;letter-spacing:0.109px;-webkit-text-stroke:0.4px #fff;">0.22% (30 days)</div>
<section class="card" style="left:419.6px;top:820.6px;width:847.6px;height:793.8px"></section>
<div class="t " style="top:854.6px;left:450.8px;font-size:27.60px;line-height:27.60px;color:#111;font-weight:700;letter-spacing:-0.134px;">Order Details</div>
<div class="t " style="top:919.1px;left:450.8px;font-size:21.50px;line-height:21.50px;color:#1f1f1f;letter-spacing:0.307px;-webkit-text-stroke:0.35px #1f1f1f;">The total number of sessions within the date range. It is the period time a user</div>
<div class="t " style="top:951.1px;left:450.8px;font-size:21.50px;line-height:21.50px;color:#1f1f1f;letter-spacing:0.271px;-webkit-text-stroke:0.35px #1f1f1f;">is actively engaged with your website, page or app, etc</div>
<div class="t " style="top:1020.2px;left:450.8px;font-size:21.50px;line-height:21.50px;color:#7b8395;letter-spacing:0.024px;-webkit-text-stroke:0.3px #7b8395;">Order value</div>
<div class="t " style="top:1056.1px;left:450.8px;font-size:46.00px;line-height:46.00px;color:#6160b9;font-weight:700;letter-spacing:0.417px;">12.3k</div>
<div class="t " style="top:1020.2px;left:643.3px;font-size:21.50px;line-height:21.50px;color:#7b8395;letter-spacing:-0.068px;-webkit-text-stroke:0.3px #7b8395;">Orders</div>
<div class="t " style="top:1056.1px;left:643.3px;font-size:46.00px;line-height:46.00px;color:#6160b9;font-weight:700;letter-spacing:0.649px;">14k</div>
<div class="t " style="top:1020.2px;left:797.0px;font-size:21.50px;line-height:21.50px;color:#7b8395;letter-spacing:-0.309px;-webkit-text-stroke:0.3px #7b8395;">Users</div>
<div class="t " style="top:1056.1px;left:797.0px;font-size:46.00px;line-height:46.00px;color:#6160b9;font-weight:700;letter-spacing:1.397px;">71.56%</div>
<div class="t " style="top:1020.2px;left:1036.3px;font-size:21.50px;line-height:21.50px;color:#7b8395;letter-spacing:0.337px;-webkit-text-stroke:0.3px #7b8395;">Downloads</div>
<div class="t " style="top:1056.1px;left:1036.3px;font-size:46.00px;line-height:46.00px;color:#6160b9;font-weight:700;letter-spacing:1.916px;">34040</div>
<svg style="left:0;top:0" width="2220" height="2100" viewBox="0 0 2220 2100" id="order-chart"><g stroke="#f3f3f5" stroke-width="1.6"><path d="M528.9 1521.6H1222.4"/><path d="M528.9 1457.3H1222.4"/><path d="M528.9 1392.9H1222.4"/><path d="M528.9 1328.6H1222.4"/><path d="M528.9 1264.2H1222.4"/><path d="M528.9 1199.9H1222.4"/></g><path d="M543.40 1457.26C558.49 1450.83 565.82 1441.83 581.12 1441.17C596.00 1440.54 605.08 1456.98 618.84 1454.04C635.26 1450.54 639.85 1430.08 656.57 1425.09C670.02 1421.07 681.77 1436.86 694.29 1431.52C711.95 1423.99 717.87 1391.11 732.01 1392.92C748.05 1394.97 753.06 1437.62 769.73 1441.17C783.23 1444.05 792.05 1409.66 807.46 1409.00C822.23 1408.38 830.40 1438.59 845.18 1437.96C860.58 1437.30 868.13 1405.16 882.90 1405.79C898.31 1406.45 909.52 1447.80 920.62 1441.17C939.69 1429.79 943.26 1360.75 958.34 1360.75C973.43 1360.75 979.38 1436.91 996.07 1441.17C1009.56 1444.63 1015.63 1387.79 1033.79 1380.05C1045.81 1374.93 1056.74 1409.63 1071.51 1409.00C1086.91 1408.35 1098.42 1369.92 1109.23 1376.84C1128.60 1389.22 1135.71 1466.85 1146.96 1457.26C1165.89 1441.11 1160.99 1352.89 1184.68 1312.50C1191.17 1301.42 1207.31 1322.15 1222.40 1328.58" fill="none" stroke="#f5a5a6" stroke-width="2.4"/><path d="M543.40 1521.60C558.49 1485.57 564.55 1466.85 581.12 1431.52C594.73 1402.51 600.20 1370.29 618.84 1360.75C630.37 1354.85 639.54 1387.11 656.57 1392.92C669.71 1397.40 685.60 1377.23 694.29 1386.49C715.78 1409.40 710.63 1451.46 732.01 1473.35C740.80 1482.34 754.64 1463.69 769.73 1463.69C784.82 1463.69 801.70 1484.88 807.46 1473.35C831.88 1424.40 825.55 1333.42 845.18 1312.50C855.73 1301.25 862.25 1375.31 882.90 1392.92C892.43 1401.05 912.07 1367.71 920.62 1376.84C942.24 1399.88 941.85 1469.12 958.34 1473.35C972.03 1476.85 980.98 1396.14 996.07 1396.14C1011.16 1396.14 1019.43 1475.18 1033.79 1473.35C1049.61 1471.32 1052.29 1398.78 1071.51 1386.49C1082.47 1379.48 1101.69 1436.98 1109.23 1425.09C1131.87 1389.37 1126.53 1291.85 1146.96 1267.46C1156.71 1255.81 1167.21 1309.69 1184.68 1335.01C1197.39 1353.44 1207.31 1360.11 1222.40 1376.84" fill="none" stroke="#5153ac" stroke-width="2.4"/><g font-family="Liberation Sans, Arial, sans-serif" font-size="18.4" fill="#7a8294"><text x="499.5" y="1528.2" text-anchor="end">200</text><text x="499.5" y="1463.9" text-anchor="end">400</text><text x="499.5" y="1399.5" text-anchor="end">600</text><text x="499.5" y="1335.2" text-anchor="end">800</text><text x="499.5" y="1270.8" text-anchor="end">1000</text><text x="499.5" y="1206.5" text-anchor="end">1200</text><text x="543.4" y="1568.6" text-anchor="middle">10</text><text x="656.6" y="1568.6" text-anchor="middle">20</text><text x="769.7" y="1568.6" text-anchor="middle">30</text><text x="882.9" y="1568.6" text-anchor="middle">40</text><text x="996.1" y="1568.6" text-anchor="middle">50</text><text x="1109.2" y="1568.6" text-anchor="middle">60</text><text x="1222.4" y="1568.6" text-anchor="middle">70</text></g></svg>
<section class="card" style="left:1313.5px;top:820.6px;width:847.7px;height:793.8px"></section>
<div class="t " style="top:854.6px;left:1344.5px;font-size:27.60px;line-height:27.60px;color:#111;font-weight:700;letter-spacing:-0.253px;">Sales Report</div>
<div class="t " style="top:856.0px;left:2041.0px;font-size:27.20px;line-height:27.20px;color:#2c9ffb;letter-spacing:-0.467px;-webkit-text-stroke:0.3px #2c9ffb;">View all</div>
<div class="t " style="top:919.1px;left:1344.5px;font-size:21.50px;line-height:21.50px;color:#1f1f1f;letter-spacing:0.307px;-webkit-text-stroke:0.35px #1f1f1f;">The total number of sessions within the date range. It is the period time a user</div>
<div class="t " style="top:951.1px;left:1344.5px;font-size:21.50px;line-height:21.50px;color:#1f1f1f;letter-spacing:0.271px;-webkit-text-stroke:0.35px #1f1f1f;">is actively engaged with your website, page or app, etc</div>
<div class="abs" style="left:1344.5px;top:1029px;width:38px;height:8px;border-radius:4px;background:#aacafd"></div>
<div class="abs" style="left:1344.5px;top:1067.4px;width:38px;height:8px;border-radius:4px;background:#6160b9"></div>
<div class="t " style="top:1023.1px;left:1393.3px;font-size:21.50px;line-height:21.50px;color:#1f1f1f;letter-spacing:0.069px;">Offline Sales</div>
<div class="t " style="top:1061.6px;left:1393.3px;font-size:21.50px;line-height:21.50px;color:#1f1f1f;letter-spacing:-0.109px;">Online Sales</div>
<svg style="left:0;top:0" width="2220" height="2100" viewBox="0 0 2220 2100" id="sales-chart"><g stroke="#f3f3f5" stroke-width="1.6"><path d="M1396.5 1393.1H2125.8"/><path d="M1396.5 1336.8H2125.8"/><path d="M1396.5 1280.4H2125.8"/><path d="M1396.5 1224.1H2125.8"/><path d="M1396.5 1167.8H2125.8"/><path d="M1396.5 1134.0H2125.8"/></g><rect fill="#aacafd" x="1423.7" y="1179.1" width="57.3" height="271.3" rx="7"/><rect fill="#6160b9" x="1481.6" y="1224.1" width="57.3" height="226.3" rx="7"/><rect fill="#aacafd" x="1567.0" y="1319.9" width="57.3" height="130.5" rx="7"/><rect fill="#6160b9" x="1624.9" y="1257.9" width="57.3" height="192.5" rx="7"/><rect fill="#aacafd" x="1710.3" y="1184.7" width="57.3" height="265.7" rx="7"/><rect fill="#6160b9" x="1768.2" y="1139.6" width="57.3" height="310.8" rx="7"/><rect fill="#aacafd" x="1853.6" y="1331.1" width="57.3" height="119.3" rx="7"/><rect fill="#6160b9" x="1911.5" y="1179.1" width="57.3" height="271.3" rx="7"/><rect fill="#aacafd" x="1996.9" y="1263.5" width="57.3" height="186.9" rx="7"/><rect fill="#6160b9" x="2054.8" y="1353.7" width="57.3" height="96.7" rx="7"/><path d="M1396.5 1450.4H2125.8" stroke="#dedee2" stroke-width="2.4"/><g font-family="Liberation Sans, Arial, sans-serif" font-size="18.4" fill="#7a8294"><text x="1394.2" y="1455.0" text-anchor="end">0$</text><text x="1394.2" y="1398.7" text-anchor="end">100$</text><text x="1394.2" y="1342.4" text-anchor="end">200$</text><text x="1394.2" y="1286.0" text-anchor="end">300$</text><text x="1394.2" y="1229.7" text-anchor="end">400$</text><text x="1394.2" y="1173.4" text-anchor="end">500$</text><text x="1394.2" y="1139.6" text-anchor="end">560$</text><text x="1481.0" y="1481.5" text-anchor="middle">Jan</text><text x="1624.3" y="1481.5" text-anchor="middle">Feb</text><text x="1767.6" y="1481.5" text-anchor="middle">Mar</text><text x="1910.9" y="1481.5" text-anchor="middle">Apr</text><text x="2054.2" y="1481.5" text-anchor="middle">May</text></g></svg>
<section class="card" style="left:419.6px;top:1676px;width:1741px;height:520px"></section>
<div class="t " style="top:1745.6px;left:488.0px;font-size:26.50px;line-height:26.50px;color:#111;font-weight:700;letter-spacing:0.401px;">Detailed Reports</div>
<div class="t " style="top:1801.8px;left:490.5px;font-size:78.60px;line-height:78.60px;color:#6160b9;letter-spacing:1.285px;-webkit-text-stroke:2.4px #6160b9;">$34040</div>
<div class="t " style="top:1893.4px;left:489.3px;font-size:37.30px;line-height:37.30px;color:#6160b9;letter-spacing:0.783px;-webkit-text-stroke:1.0px #6160b9;">North America</div>
<div class="t " style="top:1974.3px;left:487.8px;font-size:21.50px;line-height:21.50px;color:#2b2b2b;letter-spacing:0.191px;-webkit-text-stroke:0.2px #2b2b2b;">The total number of sessions within</div>
<div class="t " style="top:2006.4px;left:487.8px;font-size:21.50px;line-height:21.50px;color:#2b2b2b;letter-spacing:0.080px;-webkit-text-stroke:0.2px #2b2b2b;">the date range. It is the period time</div>
<div class="t " style="top:2038.6px;left:487.8px;font-size:21.50px;line-height:21.50px;color:#2b2b2b;letter-spacing:0.086px;-webkit-text-stroke:0.2px #2b2b2b;">a user is actively engaged with your</div>
<div class="t " style="top:2070.7px;left:487.8px;font-size:21.50px;line-height:21.50px;color:#2b2b2b;letter-spacing:-0.026px;-webkit-text-stroke:0.2px #2b2b2b;">website, page or app, etc</div>
<div class="t " style="top:1772.9px;left:915.9px;font-size:21.50px;line-height:21.50px;color:#7b8395;letter-spacing:0.319px;-webkit-text-stroke:0.35px #7b8395;">Illinois</div>
<div class="abs" style="left:1104.6px;top:1774.7px;width:228.7px;height:16.6px;border-radius:8.3px;background:#eaedf0"><div style="width:160.1px;height:16.6px;border-radius:8.3px;background:#6160b9"></div></div>
<div class="t " style="top:1771.9px;left:1404.2px;font-size:22.80px;line-height:22.80px;color:#282f3a;font-weight:700;letter-spacing:1.853px;">713</div>
<div class="t " style="top:1852.8px;left:915.9px;font-size:21.50px;line-height:21.50px;color:#7b8395;letter-spacing:0.446px;-webkit-text-stroke:0.35px #7b8395;">Washington</div>
<div class="abs" style="left:1104.6px;top:1854.6px;width:228.7px;height:16.6px;border-radius:8.3px;background:#eaedf0"><div style="width:68.6px;height:16.6px;border-radius:8.3px;background:#ffc900"></div></div>
<div class="t " style="top:1851.8px;left:1404.2px;font-size:22.80px;line-height:22.80px;color:#282f3a;font-weight:700;letter-spacing:1.853px;">583</div>
<div class="t " style="top:1932.6px;left:915.9px;font-size:21.50px;line-height:21.50px;color:#7b8395;letter-spacing:0.051px;-webkit-text-stroke:0.35px #7b8395;">Mississippi</div>
<div class="abs" style="left:1104.6px;top:1934.4px;width:228.7px;height:16.6px;border-radius:8.3px;background:#eaedf0"><div style="width:217.3px;height:16.6px;border-radius:8.3px;background:#ff625e"></div></div>
<div class="t " style="top:1931.6px;left:1404.2px;font-size:22.80px;line-height:22.80px;color:#282f3a;font-weight:700;letter-spacing:1.853px;">924</div>
<div class="t " style="top:2012.5px;left:915.9px;font-size:21.50px;line-height:21.50px;color:#7b8395;letter-spacing:-0.032px;-webkit-text-stroke:0.35px #7b8395;">California</div>
<div class="abs" style="left:1104.6px;top:2014.3px;width:228.7px;height:16.6px;border-radius:8.3px;background:#eaedf0"><div style="width:137.2px;height:16.6px;border-radius:8.3px;background:#2c9ffb"></div></div>
<div class="t " style="top:2011.5px;left:1404.2px;font-size:22.80px;line-height:22.80px;color:#282f3a;font-weight:700;letter-spacing:1.853px;">664</div>
<div class="t " style="top:2092.4px;left:915.9px;font-size:21.50px;line-height:21.50px;color:#7b8395;letter-spacing:0.259px;-webkit-text-stroke:0.35px #7b8395;">Maryland</div>
<div class="abs" style="left:1104.6px;top:2094.2px;width:228.7px;height:16.6px;border-radius:8.3px;background:#eaedf0"><div style="width:91.5px;height:16.6px;border-radius:8.3px;background:#6160b9"></div></div>
<div class="t " style="top:2091.4px;left:1404.2px;font-size:22.80px;line-height:22.80px;color:#282f3a;font-weight:700;letter-spacing:1.853px;">560</div>
<div class="abs" style="left:1505.7px;top:1718px;width:1.5px;height:400px;background:#e9e9ef"></div>
<div class="abs" style="left:2017.4px;top:1707.2px;width:45.8px;height:45.4px;border-radius:7px;background:#eef0f5"></div>
<svg style="left:0;top:0" width="2220" height="2100" viewBox="0 0 2220 2100"><path d="M2045.3 1720.6L2035.6 1730.2L2045.3 1739.8" fill="none" stroke="#6b7280" stroke-width="1.8" stroke-linecap="round" stroke-linejoin="round"/></svg>
<div class="abs" style="left:2074.2px;top:1707.2px;width:45.8px;height:45.4px;border-radius:7px;background:#eef0f5"></div>
<svg style="left:0;top:0" width="2220" height="2100" viewBox="0 0 2220 2100"><path d="M2092.8 1720.6L2102.5 1730.2L2092.8 1739.8" fill="none" stroke="#6b7280" stroke-width="1.8" stroke-linecap="round" stroke-linejoin="round"/></svg>
<svg style="left:0;top:0" width="2220" height="2100" viewBox="0 0 2220 2100" id="north-america-chart"><path fill="#ffc907" d="M1830.40 1746.10A147.5 147.5 0 0 1 1970.68 1939.18L1939.68 1929.11A114.9 114.9 0 0 0 1830.40 1778.70Z"/><path fill="#2c9ffb" d="M1970.68 1939.18A147.5 147.5 0 0 1 1711.07 1980.30L1737.44 1961.14A114.9 114.9 0 0 0 1939.68 1929.11Z"/><path fill="#82c51e" d="M1711.07 1980.30A147.5 147.5 0 0 1 1830.40 1746.10L1830.40 1778.70A114.9 114.9 0 0 0 1737.44 1961.14Z"/><text x="1829.8" y="1914.2" text-anchor="middle" font-family="Liberation Sans, Arial, sans-serif" font-weight="700" font-size="78" fill="#000">76</text><circle cx="1619.1" cy="2084.6" r="15.3" fill="#ffc907"/></svg>
<div class="t " style="top:2075.0px;left:1659.4px;font-size:21.50px;line-height:21.50px;color:#282f3a;letter-spacing:0.122px;">Offline sales</div>
<div class="t " style="top:2075.0px;left:1980.5px;font-size:21.50px;line-height:21.50px;color:#282f3a;letter-spacing:0.659px;">495343</div>
</div></body></html>
